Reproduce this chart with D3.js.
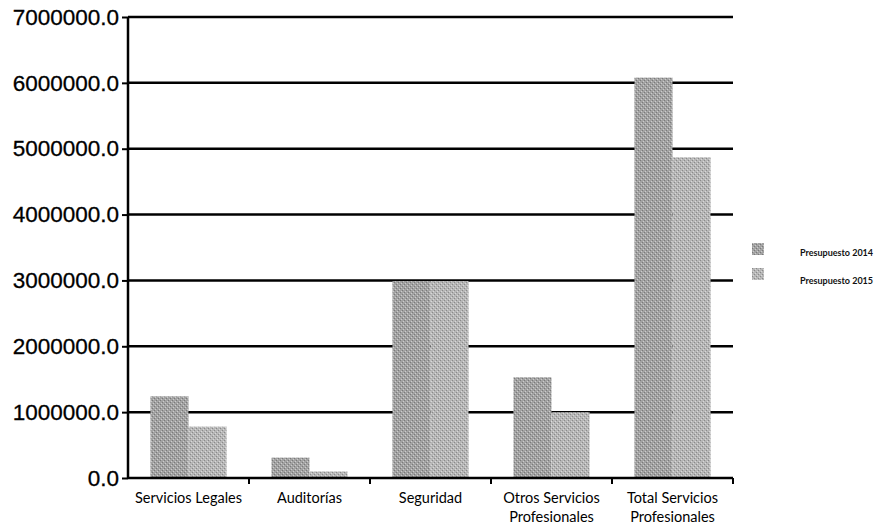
<!DOCTYPE html>
<html><head><meta charset="utf-8">
<script src="https://cdn.jsdelivr.net/npm/d3@7"></script>
<style>body{margin:0;background:#fff}svg{display:block}</style>
</head><body>
<svg id="c" width="896" height="525"></svg>
<script>
const categories = [["Servicios Legales"],["Auditorías"],["Seguridad"],["Otros Servicios","Profesionales"],["Total Servicios","Profesionales"]];
const series = ["Presupuesto 2014","Presupuesto 2015"];
const values2014 = [1240000, 310000, 2990000, 1530000, 6080000];
const values2015 = [780000, 100000, 2990000, 1000000, 4870000];
const yTicks = [0,1000000,2000000,3000000,4000000,5000000,6000000,7000000];
const colors = ["#a2a2a2","#b6b6b6"];

const svg = d3.select("#c");
const m = {l:128, r:733, t:17, b:478};
const x = d3.scaleBand().domain(d3.range(categories.length)).range([m.l, m.r]).paddingInner(0).paddingOuter(0);
const x1 = d3.scaleBand().domain([0,1]).range([0, x.bandwidth()]).paddingOuter(0.59).paddingInner(0);
const y = d3.scaleLinear().domain([0,7000000]).range([m.b, m.t]);

// patterns (halftone look)
const defs = svg.append("defs");
colors.forEach((c,i)=>{
  const p = defs.append("pattern").attr("id","p"+i).attr("width",4).attr("height",4).attr("patternUnits","userSpaceOnUse");
  p.append("rect").attr("width",4).attr("height",4).attr("fill",c);
  p.append("rect").attr("x",0).attr("y",0).attr("width",1).attr("height",1).attr("fill",i?"#8a8a8a":"#7a7a7a");
  p.append("rect").attr("x",2).attr("y",2).attr("width",1).attr("height",1).attr("fill",i?"#8a8a8a":"#7a7a7a");
  p.append("rect").attr("x",1).attr("y",3).attr("width",1).attr("height",1).attr("fill",i?"#d8d8d8":"#cccccc");
  p.append("rect").attr("x",3).attr("y",1).attr("width",1).attr("height",1).attr("fill",i?"#d8d8d8":"#cccccc");
});

// gridlines
svg.append("g").selectAll("line").data(yTicks.filter(d=>d>0)).join("line")
  .attr("x1",m.l).attr("x2",m.r).attr("y1",d=>y(d)).attr("y2",d=>y(d))
  .attr("stroke","#000").attr("stroke-width",2.5);

// bars
const data = [values2014, values2015];
const g = svg.append("g");
categories.forEach((c,ci)=>{
  data.forEach((vals,si)=>{
    g.append("rect")
      .attr("x", x(ci)+x1(si)).attr("width", x1.bandwidth())
      .attr("y", y(vals[ci])).attr("height", y(0)-y(vals[ci]))
      .attr("fill","url(#p"+si+")");
  });
});

// y axis
const ya = svg.append("g").attr("transform",`translate(${m.l},0)`)
  .call(d3.axisLeft(y).tickValues(yTicks).tickFormat(d=>d3.format(".1f")(d)).tickSize(6).tickPadding(3));
ya.select(".domain").attr("stroke","#000").attr("stroke-width",2.5).attr("d",`M0,${m.t}V${m.b}`);
ya.selectAll(".tick line").attr("stroke","#000").attr("stroke-width",2);
ya.selectAll(".tick text").attr("font-family","Liberation Sans, Arial, sans-serif").attr("font-size",22.5)
  .attr("fill","#000").attr("stroke","#000").attr("stroke-width",0.3);

// x axis
const xa = svg.append("g").attr("transform",`translate(0,${m.b})`);
xa.append("line").attr("x1",m.l).attr("x2",m.r).attr("stroke","#000").attr("stroke-width",2.5);
xa.selectAll("line.t").data(d3.range(1,categories.length+1)).join("line").attr("class","t")
  .attr("x1",i=>m.l+i*x.bandwidth()).attr("x2",i=>m.l+i*x.bandwidth()).attr("y1",0).attr("y2",6)
  .attr("stroke","#000").attr("stroke-width",2);
const lab = xa.selectAll("text").data(categories).join("text")
  .attr("x",(d,i)=>x(i)+x.bandwidth()/2).attr("y",25)
  .attr("text-anchor","middle").attr("font-family","Lato, sans-serif").attr("font-size",14.5).attr("fill","#000");
lab.selectAll("tspan").data(d=>d).join("tspan")
  .attr("x",function(){return d3.select(this.parentNode).attr("x");})
  .attr("dy",(d,i)=>i?19:0).text(d=>d);

// legend
const lg = svg.append("g");
series.forEach((s,i)=>{
  lg.append("rect").attr("x",752).attr("y",243+i*25).attr("width",12).attr("height",12).attr("fill","url(#p"+i+")");
  lg.append("text").attr("x",800).attr("y",256+i*28).attr("font-family","Lato, sans-serif").attr("font-size",9)
    .attr("font-weight","bold").attr("fill","#111").text(s);
});
</script>
</body></html>
